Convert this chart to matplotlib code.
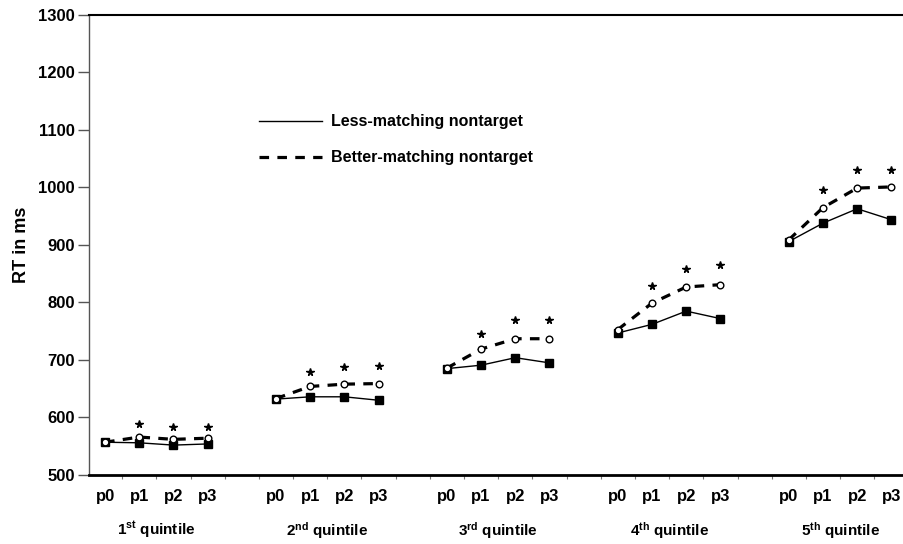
import numpy as np
import matplotlib
matplotlib.use('Agg')
import matplotlib.pyplot as plt
from matplotlib.ticker import FixedLocator
from matplotlib.lines import Line2D
import matplotlib.transforms as mtransforms

plt.rcParams['font.family'] = ['Liberation Sans', 'DejaVu Sans']
plt.rcParams['font.weight'] = 'bold'
plt.rcParams['mathtext.fontset'] = 'custom'
plt.rcParams['mathtext.rm'] = 'Liberation Sans:bold'
plt.rcParams['mathtext.it'] = 'Liberation Sans:bold'
plt.rcParams['mathtext.bf'] = 'Liberation Sans:bold'

# data
quintiles = ['1', '2', '3', '4', '5']
suffixes = ['st', 'nd', 'rd', 'th', 'th']
probes = ['p0', 'p1', 'p2', 'p3']

less_matching = [
    [557, 556, 552, 554],
    [632, 636, 636, 630],
    [685, 691, 704, 695],
    [747, 762, 785, 772],
    [906, 938, 963, 944],
]
better_matching = [
    [557, 566, 562, 564],
    [633, 654, 658, 659],
    [686, 719, 737, 737],
    [753, 799, 827, 831],
    [909, 965, 999, 1001],
]
# significance stars (p1..p3 of each quintile)
star_y = [
    [589, 583, 584],
    [679, 687, 689],
    [746, 770, 769],
    [828, 858, 865],
    [995, 1031, 1031],
]

fig = plt.figure(figsize=(9.04, 5.44), dpi=100)
ax = fig.add_axes([89/904, 69/544, 1 - 89/904, 460/544])

xticks = []
xlabels = []
for g in range(5):
    x = np.arange(4) + g * 5
    ax.plot(x, less_matching[g], '-', color='black', lw=1.0,
            marker='s', ms=5.5, mfc='black', mec='black', zorder=3)
    ax.plot(x, better_matching[g], color='black', lw=2.3, ls=(0, (3, 2.6)),
            marker='o', ms=4.8, mfc='white', mec='black', mew=1.0, zorder=4)
    ax.plot(x[1:], star_y[g], ls='none', marker='*', ms=5.5, color='black')
    xticks += list(x)
    xlabels += probes
    ax.text(g * 5 + 1.5, -0.12,
            r'$\mathrm{%s}^{\mathrm{%s}}$ quintile' % (quintiles[g], suffixes[g]),
            transform=mtransforms.blended_transform_factory(ax.transData, ax.transAxes),
            ha='center', va='center', fontsize=11, fontweight='bold')

ax.set_xlim(-0.47, 23.37)
ax.set_ylim(500, 1300)
ax.set_yticks(np.arange(500, 1301, 100))
ax.set_xticks(xticks)
ax.set_xticklabels(xlabels)
ax.xaxis.set_minor_locator(FixedLocator(np.arange(0.5, 23.5, 1)))
ax.tick_params(axis='x', which='major', length=0, pad=10, labelsize=12)
ax.tick_params(axis='x', which='minor', length=3, color='#777777', width=0.8)
ax.tick_params(axis='y', length=8, color='#555555', width=1, labelsize=12, pad=2)

ax.spines['right'].set_visible(False)
ax.spines['left'].set_color('#555555')
ax.spines['left'].set_linewidth(1.0)
ax.spines['bottom'].set_linewidth(2.0)
ax.spines['top'].set_linewidth(1.5)

ax.set_ylabel('RT in ms', fontsize=13, fontweight='bold', labelpad=6)

handles = [Line2D([], [], color='black', lw=1.0),
           Line2D([], [], color='black', lw=2.3, ls=(0, (3, 2.6)))]
ax.legend(handles, ['Less-matching nontarget', 'Better-matching nontarget'],
          loc='upper left', bbox_to_anchor=(245/904, 1 - 100/544),
          bbox_transform=fig.transFigure, frameon=False, fontsize=11.5,
          handlelength=3.9, handletextpad=0.6, labelspacing=1.3)

fig.savefig('out.png', dpi=100)
